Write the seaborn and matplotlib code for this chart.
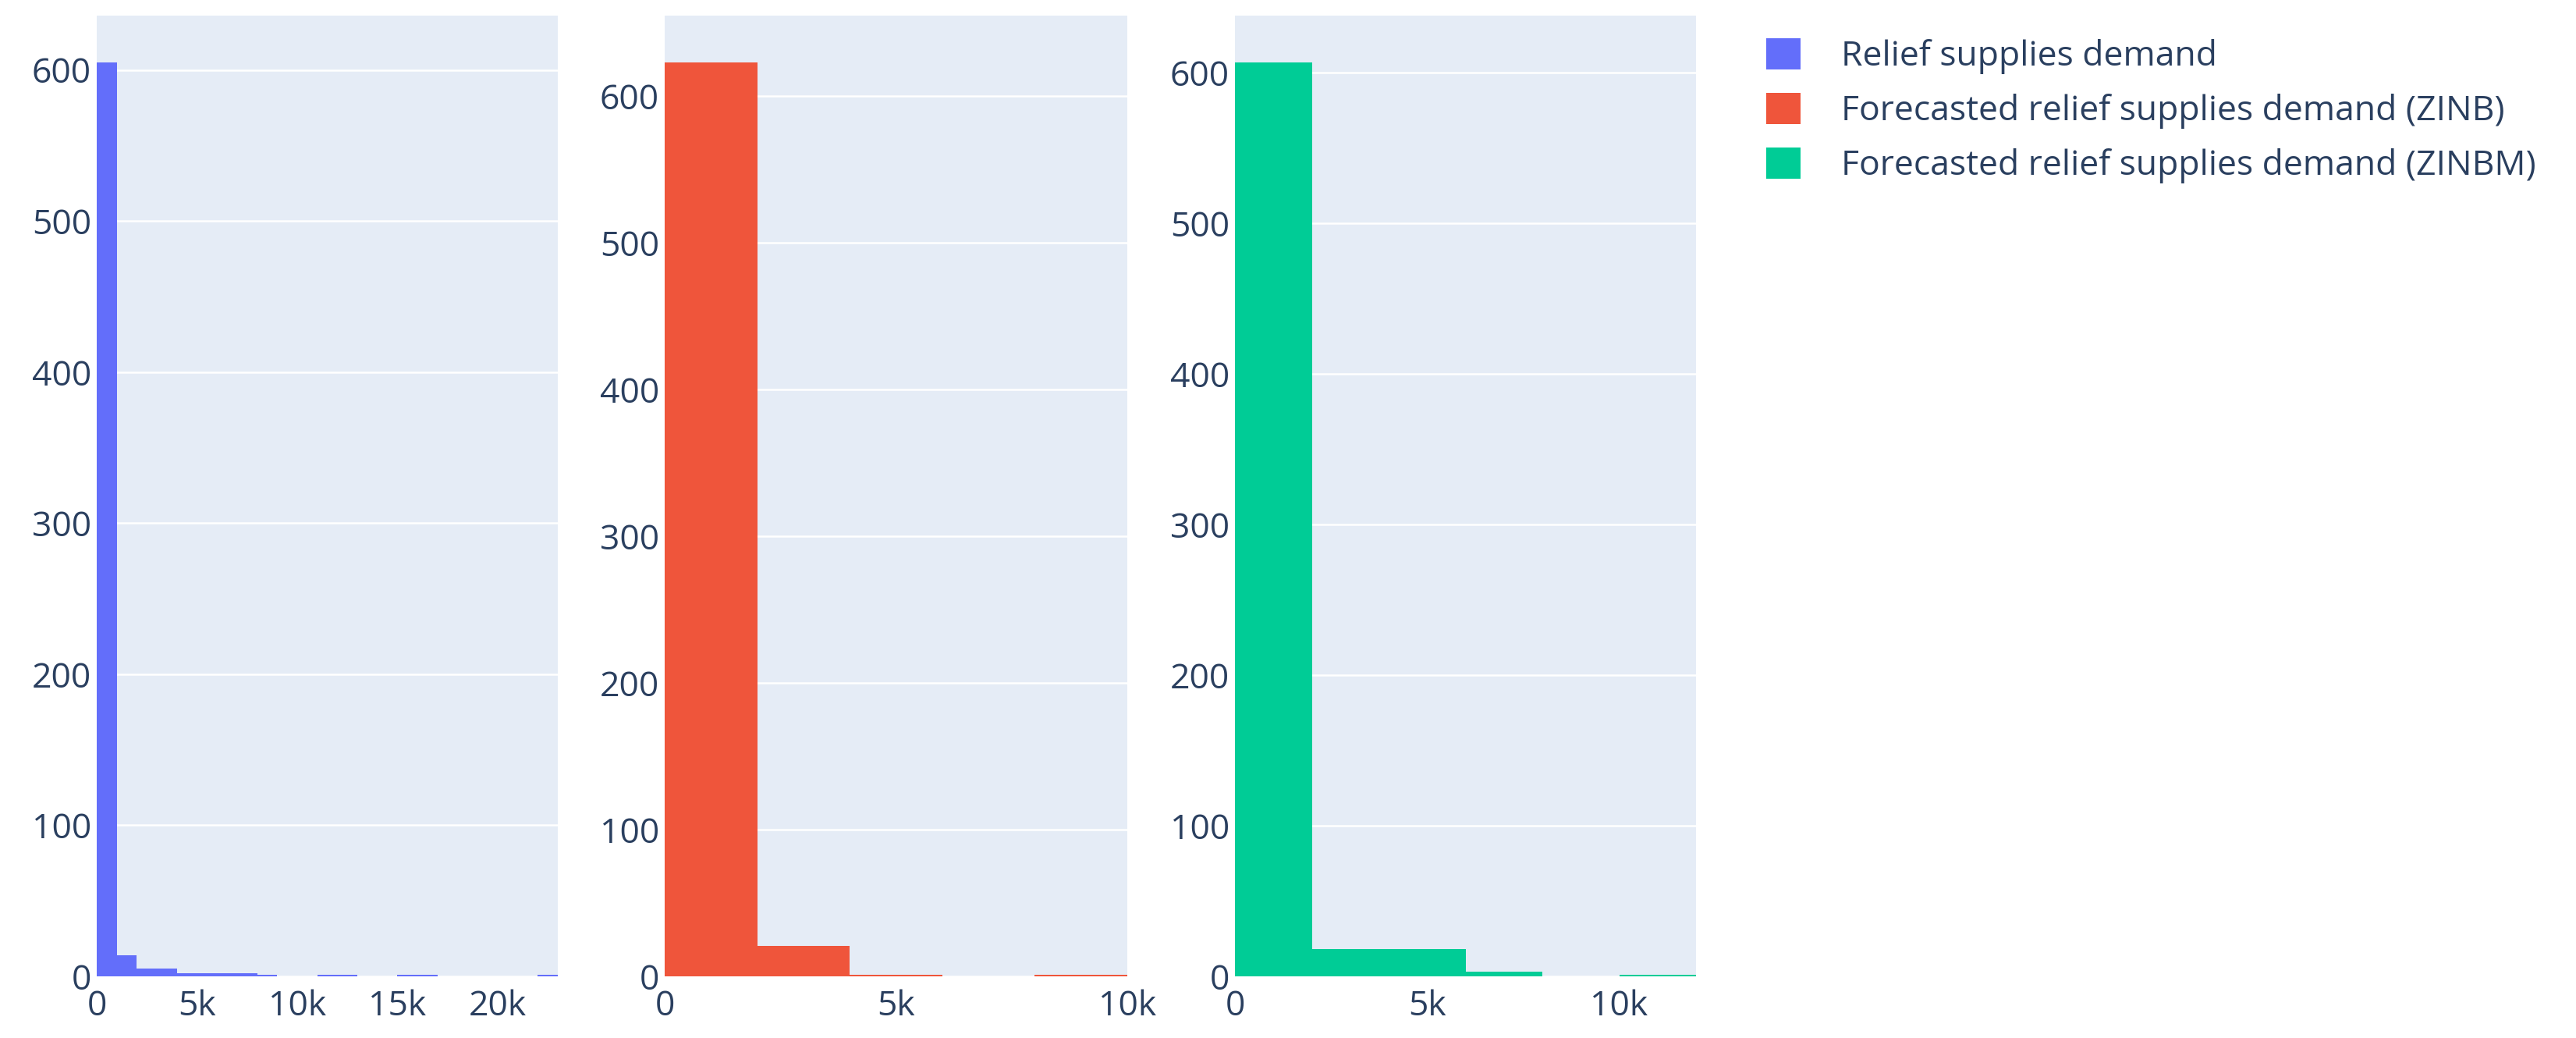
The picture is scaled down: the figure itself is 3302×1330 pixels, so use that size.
# histograms of relief supplies demand: actual vs forecasted (ZINB, ZINBM)
import numpy as np
import pandas as pd
import matplotlib.pyplot as plt
import seaborn as sns
from matplotlib.patches import Patch
from matplotlib.ticker import FuncFormatter

# data: bin left edges and counts per bin
actual_bins = [0, 1000, 2000, 3000, 4000, 5000, 6000, 7000, 8000, 9000, 10000, 11000,
               12000, 13000, 14000, 15000, 16000, 17000, 18000, 19000, 20000, 21000, 22000]
actual_counts = [605, 14, 5, 5, 2, 2, 2, 2, 1, 0, 0, 1, 1, 0, 0, 1, 1, 0, 0, 0, 0, 0, 1]

zinb_bins = [0, 2000, 4000, 6000, 8000]
zinb_counts = [623, 21, 1, 0, 1]

zinbm_bins = [0, 2000, 4000, 6000, 8000, 10000]
zinbm_counts = [607, 18, 18, 3, 0, 1]

labels = ['Relief supplies demand',
          'Forecasted relief supplies demand (ZINB)',
          'Forecasted relief supplies demand (ZINBM)']
colors = ['#636EFA', '#EF553B', '#00CC96']
bin_width = [1000, 2000, 2000]
x_max = [23000, 10000, 12000]
y_max = [636, 655, 638]
x_ticks = [[0, 5000, 10000, 15000, 20000], [0, 5000, 10000], [0, 5000, 10000]]
y_ticks = [0, 100, 200, 300, 400, 500, 600]

sns.set_theme(style='darkgrid')
plt.rcParams['font.family'] = ['Open Sans', 'DejaVu Sans']
text_color = '#2a3f5f'

fig = plt.figure(figsize=(33.02, 13.30), dpi=100)
W, H = 3302, 1330
# panel boxes in pixels: left, right
boxes = [(124, 715), (852, 1445), (1583, 2174)]
top, bottom = 20, 1251

series = [(actual_bins, actual_counts), (zinb_bins, zinb_counts), (zinbm_bins, zinbm_counts)]


def kfmt(v, pos):
    if v == 0:
        return '0'
    return '%dk' % int(v / 1000)


for i, (bins, counts) in enumerate(series):
    l, r = boxes[i]
    ax = fig.add_axes([l / W, (H - bottom) / H, (r - l) / W, (bottom - top) / H])
    df = pd.DataFrame({'x': np.array(bins) + bin_width[i] / 2, 'n': counts})
    edges = list(bins) + [bins[-1] + bin_width[i]]
    sns.histplot(data=df, x='x', weights='n', bins=edges, ax=ax,
                 color=colors[i], alpha=1, edgecolor='none', linewidth=0)
    ax.set_facecolor('#E5ECF6')
    ax.set_xlim(0, x_max[i])
    ax.set_ylim(0, y_max[i])
    ax.set_xticks(x_ticks[i])
    ax.set_yticks(y_ticks)
    ax.xaxis.set_major_formatter(FuncFormatter(kfmt))
    ax.grid(axis='x', visible=False)
    ax.grid(axis='y', color='white', linewidth=1.8)
    ax.set_axisbelow(True)
    ax.set_xlabel('')
    ax.set_ylabel('')
    for s in ax.spines.values():
        s.set_visible(False)
    ax.tick_params(axis='both', length=0, labelsize=32, colors=text_color)
    ax.tick_params(axis='y', pad=5)
    ax.tick_params(axis='x', pad=12)

handles = [Patch(facecolor=c, edgecolor='none') for c in colors]
leg = fig.legend(handles, labels, loc='upper left', bbox_to_anchor=(2264 / W, 1 - 49 / H),
                 frameon=False, fontsize=32, handlelength=1.0, handleheight=1.0,
                 handletextpad=1.15, labelspacing=0.54, borderpad=0, borderaxespad=0)
for t in leg.get_texts():
    t.set_color(text_color)

fig.savefig('out.png', dpi=100)
